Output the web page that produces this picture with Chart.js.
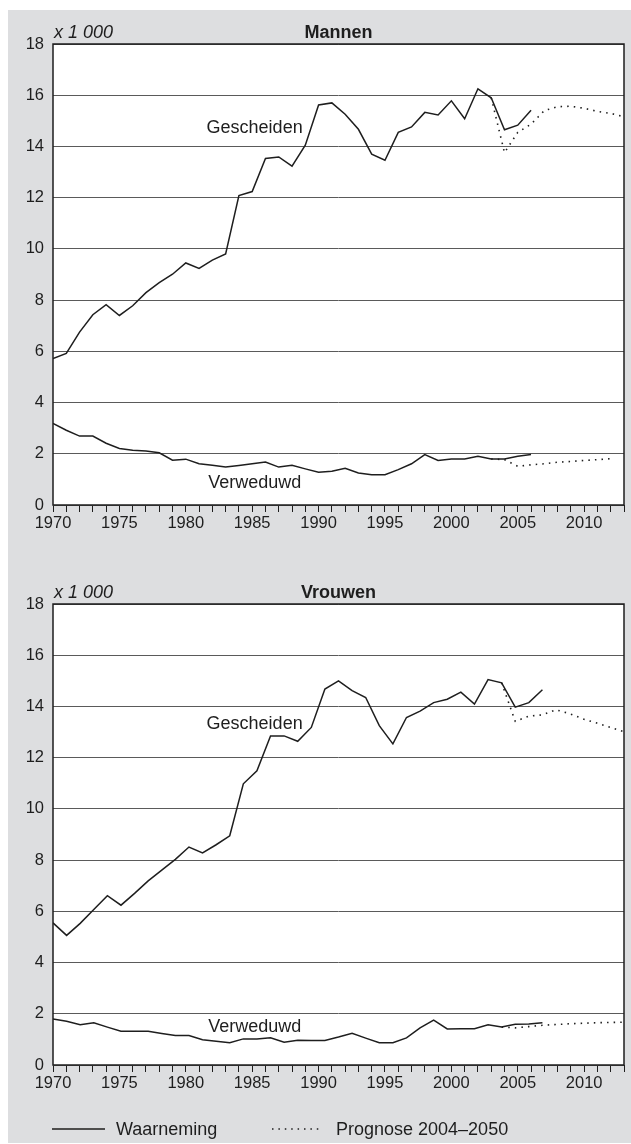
<!DOCTYPE html>
<html>
<head>
<meta charset="utf-8">
<script src="https://cdn.jsdelivr.net/npm/chart.js@4.4.1/dist/chart.umd.min.js"></script>
<style>
  html, body { margin: 0; padding: 0; background: #ffffff; }
  body { width: 631px; height: 1144px; position: relative; overflow: hidden;
         font-family: "Liberation Sans", Arial, sans-serif; color: #1e1e1e; }
  #bg { position: absolute; left: 8px; top: 10px; width: 623px; height: 1133px; background: #dddee0; }
  canvas { position: absolute; left: 0; }
  #c1 { top: 0; }
  #c2 { top: 560px; }
  .leg { position: absolute; top: 1118px; font-size: 18px; line-height: 22px; white-space: nowrap; }
  svg.legline { position: absolute; top: 1126px; }
</style>
</head>
<body>
<div id="bg"></div>
<canvas id="c1" width="631" height="560"></canvas>
<canvas id="c2" width="631" height="560"></canvas>
<svg class="legline" style="left:52px" width="54" height="6"><line x1="0" y1="3" x2="53" y2="3" stroke="#1e1e1e" stroke-width="1.5"/></svg>
<div class="leg" style="left:116px">Waarneming</div>
<svg class="legline" style="left:271px" width="54" height="6"><line x1="1" y1="3" x2="52" y2="3" stroke="#1e1e1e" stroke-width="1.5" stroke-dasharray="1.5 4.9"/></svg>
<div class="leg" style="left:336px">Prognose 2004–2050</div>
<script>
// ---------------- DATA ----------------
const obsYears = [1970,1971,1972,1973,1974,1975,1976,1977,1978,1979,1980,1981,1982,1983,1984,1985,1986,1987,1988,1989,1990,1991,1992,1993,1994,1995,1996,1997,1998,1999,2000,2001,2002,2003,2004,2005,2006];

const menGescheiden = [5.72,5.92,6.75,7.43,7.82,7.40,7.78,8.29,8.68,9.01,
  9.45,9.24,9.56,9.80,12.08,12.24,13.53,13.59,13.23,14.05,
  15.62,15.70,15.26,14.67,13.70,13.46,14.55,14.76,15.33,15.23,
  15.78,15.08,16.25,15.90,14.65,14.83,15.41];
const menVerweduwd = [3.19,2.92,2.69,2.69,2.41,2.21,2.14,2.11,2.04,1.75,
  1.79,1.61,1.55,1.48,1.54,1.61,1.68,1.48,1.55,1.41,
  1.28,1.32,1.43,1.25,1.18,1.18,1.38,1.61,1.97,1.74,
  1.80,1.80,1.90,1.80,1.80,1.90,1.97];

const menProgGeschYears = [2003,2004,2005,2006,2007,2008,2009,2010,2011,2012,2013];
const menProgGescheiden = [15.90,13.76,14.55,14.87,15.40,15.55,15.57,15.49,15.37,15.29,15.16];
const menProgVerwYears = [2003,2004,2005,2006,2007,2008,2009,2010,2011,2012];
const menProgVerweduwd = [1.80,1.77,1.51,1.57,1.61,1.67,1.70,1.74,1.77,1.81];

const womenGescheiden = [5.55,5.06,5.53,6.07,6.61,6.24,6.70,7.19,7.61,8.03,
  8.51,8.28,8.60,8.95,10.98,11.49,12.85,12.85,12.64,13.18,
  14.68,15.00,14.62,14.35,13.25,12.54,13.57,13.82,14.15,14.28,
  14.56,14.09,15.05,14.92,13.97,14.15,14.65];
const womenVerweduwd = [1.80,1.71,1.57,1.65,1.48,1.32,1.32,1.32,1.23,1.15,
  1.15,0.99,0.93,0.87,1.02,1.02,1.06,0.89,0.97,0.96,
  0.96,1.09,1.24,1.05,0.87,0.87,1.06,1.45,1.75,1.41,
  1.42,1.42,1.57,1.48,1.59,1.60,1.65];

const womenProgYears = [2003,2004,2005,2006,2007,2008,2009,2010,2011,2012];
const womenProgGescheiden = [14.92,13.42,13.62,13.67,13.87,13.72,13.51,13.35,13.18,13.01];
const womenProgVerweduwd = [1.48,1.45,1.50,1.55,1.58,1.61,1.63,1.65,1.66,1.67];

const yTicks = [0,2,4,6,8,10,12,14,16,18];
const xLabelYears = [1970,1975,1980,1985,1990,1995,2000,2005,2010];
const unitLabel = 'x 1 000';
const titles = ['Mannen','Vrouwen'];
const seriesNames = ['Gescheiden','Verweduwd'];

// ---------------- STYLE ----------------
const INK = '#1e1e1e';
const FONT = '"Liberation Sans", Arial, sans-serif';

function pts(xs, ys) { return xs.map((x, i) => ({ x: x, y: ys[i] })); }

const decoPlugin = {
  id: 'deco',
  beforeDraw(chart) {
    const a = chart.chartArea, c = chart.ctx;
    c.save();
    c.fillStyle = '#ffffff';
    c.fillRect(a.left, a.top, a.right - a.left, a.bottom - a.top);
    c.restore();
  },
  afterDraw(chart, args, opts) {
    const a = chart.chartArea, c = chart.ctx;
    const xs = chart.scales.x, ys = chart.scales.y;
    c.save();
    // frame
    c.strokeStyle = INK; c.lineWidth = 1.5;
    c.strokeRect(a.left, a.top, a.right - a.left, a.bottom - a.top);
    // unit and title
    c.fillStyle = INK;
    c.textBaseline = 'alphabetic';
    c.font = 'italic 18px ' + FONT;
    c.textAlign = 'left';
    c.fillText(opts.unit, a.left + 1, a.top - 6);
    c.font = 'bold 18px ' + FONT;
    c.textAlign = 'center';
    c.fillText(opts.title, (a.left + a.right) / 2, a.top - 6);
    // series labels
    c.font = '18px ' + FONT;
    c.textBaseline = 'middle';
    opts.labels.forEach(l => {
      c.textAlign = l.align;
      c.fillText(l.text, xs.getPixelForValue(l.x), ys.getPixelForValue(l.y));
    });
    c.restore();
  }
};

function makeChart(id, datasets, title, labels, dataXAxis) {
  const scales = {
    x: {
      type: 'linear', min: 1970, max: 2013,
      afterFit(s) { s.height = 55; },
      afterBuildTicks(s) { const t = []; for (let v = 1970; v <= 2013; v++) t.push({ value: v }); s.ticks = t; },
      ticks: {
        autoSkip: false, maxRotation: 0, minRotation: 0, padding: 2,
        color: INK, font: { family: FONT, size: 16.5 },
        callback: v => xLabelYears.includes(v) ? String(v) : ''
      },
      grid: { drawOnChartArea: false, drawTicks: true, tickLength: 7, color: INK, lineWidth: 1 },
      border: { display: false }
    },
    y: {
      type: 'linear', min: 0, max: 18,
      afterFit(s) { s.width = 53; },
      afterBuildTicks(s) { s.ticks = yTicks.map(v => ({ value: v })); },
      ticks: { padding: 9, color: INK, font: { family: FONT, size: 16.5 } },
      grid: { drawTicks: false, color: '#5a5a5a', lineWidth: 1 },
      border: { display: false }
    }
  };
  if (dataXAxis) {
    scales.xw = { type: 'linear', min: 1970, max: 2012, display: false };
  }
  return new Chart(document.getElementById(id), {
    type: 'line',
    data: { datasets: datasets.map(d => Object.assign({
      xAxisID: dataXAxis ? 'xw' : 'x',
      borderColor: INK, borderWidth: 1.5, pointRadius: 0, tension: 0, fill: false,
      borderJoinStyle: 'miter'
    }, d)) },
    options: {
      responsive: false, animation: false, devicePixelRatio: 1,
      layout: { padding: { left: 0, right: 7, top: 44, bottom: 0 } },
      scales: scales,
      plugins: {
        legend: { display: false }, tooltip: { enabled: false }, title: { display: false },
        deco: { unit: unitLabel, title: title, labels: labels }
      }
    },
    plugins: [decoPlugin]
  });
}

const dotted = { borderDash: [1.5, 5.1], borderWidth: 1.6 };

makeChart('c1', [
  { data: pts(menProgGeschYears, menProgGescheiden), ...dotted },
  { data: pts(menProgVerwYears, menProgVerweduwd), ...dotted },
  { data: pts(obsYears, menGescheiden) },
  { data: pts(obsYears, menVerweduwd) }
], titles[0], [
  { text: seriesNames[0], x: 1988.8, y: 14.72, align: 'right' },
  { text: seriesNames[1], x: 1985.2, y: 0.86, align: 'center' }
], false);

makeChart('c2', [
  { data: pts(womenProgYears, womenProgGescheiden), ...dotted },
  { data: pts(womenProgYears, womenProgVerweduwd), ...dotted },
  { data: pts(obsYears, womenGescheiden) },
  { data: pts(obsYears, womenVerweduwd) }
], titles[1], [
  { text: seriesNames[0], x: 1988.8, y: 13.31, align: 'right' },
  { text: seriesNames[1], x: 1985.2, y: 1.48, align: 'center' }
], true);
</script>
</body>
</html>
